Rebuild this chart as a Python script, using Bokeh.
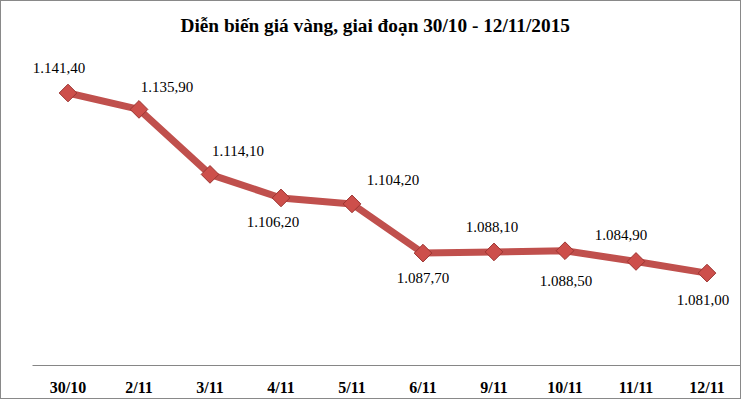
from math import pi
from bokeh.plotting import figure
from bokeh.models import ColumnDataSource, Range1d
from bokeh.core.properties import value
from bokeh.embed import file_html
from bokeh.resources import INLINE

# ---- data ----
dates = ["30/10", "2/11", "3/11", "4/11", "5/11", "6/11", "9/11", "10/11", "11/11", "12/11"]
prices = [1141.40, 1135.90, 1114.10, 1106.20, 1104.20, 1087.70, 1088.10, 1088.50, 1084.90, 1081.00]
title_text = "Diễn biến giá vàng, giai đoạn 30/10 - 12/11/2015"
y_min, y_max = 1050, 1157

# label placement (screen pixel offsets from each point)
label_dx = [-9, 28, 28, -8, 41, 0, -2, 1, -15, -4]
label_dy = [-25, -22, -23, 24, -24, 25, -25, 30, -26, 27]


def vn_fmt(v):
    s = f"{v:,.2f}"
    return s.replace(",", "#").replace(".", ",").replace("#", ".")


labels = [vn_fmt(v) for v in prices]

src = ColumnDataSource(dict(x=dates, y=prices, lab=labels, dx=label_dx, dy=label_dy))

p = figure(
    x_range=dates,
    y_range=Range1d(y_min, y_max),
    width=741, height=399,
    output_backend="svg",
    toolbar_location=None,
    min_border_left=31, min_border_right=0,
    min_border_top=45, min_border_bottom=35,
)
p.styles = {"border": "1px solid #898989", "box-sizing": "border-box"}

p.title.text = title_text
p.title.text_font = "Liberation Serif"
p.title.text_font_style = "bold"
p.title.text_font_size = "19.3px"
p.title.text_color = "#000000"
p.title.align = "left"
p.title.vertical_align = "bottom"
p.title.offset = 148
p.title.standoff = 21

p.outline_line_color = None
p.background_fill_color = "white"
p.border_fill_color = "white"
p.xgrid.visible = False
p.ygrid.visible = False
p.yaxis.visible = False

ax = p.xaxis[0]
ax.axis_line_color = "#868686"
ax.axis_line_width = 1
ax.major_tick_line_color = None
ax.minor_tick_line_color = None
ax.major_tick_out = 0
ax.major_label_standoff = 13
ax.major_label_text_font = "Liberation Serif"
ax.major_label_text_font_style = "bold"
ax.major_label_text_font_size = "16px"
ax.major_label_text_color = "#000000"

p.x_range.range_padding = 0

p.line("x", "y", source=src, line_width=7, line_color="#C0504D", line_join="round")
p.scatter("x", "y", source=src, marker="square", angle=pi / 4, size=12.5,
          fill_color="#CD4F4B", line_color="#9C3532", line_width=1)

p.text("x", "y", text="lab", source=src, x_offset="dx", y_offset="dy",
       text_font=value("Liberation Serif"), text_font_size="15px",
       text_color="#000000", text_align="center", text_baseline="middle")

open("out.html", "w").write(file_html(p, INLINE))
